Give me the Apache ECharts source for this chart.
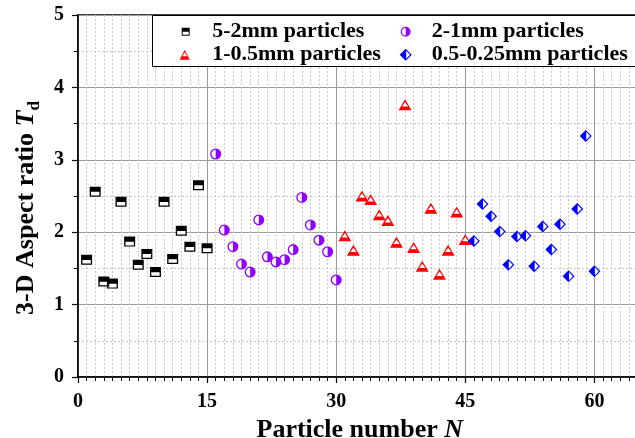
<!DOCTYPE html>
<html>
<head>
<meta charset="utf-8">
<script src="https://cdn.jsdelivr.net/npm/echarts@6/dist/echarts.min.js"></script>
<style>html,body{margin:0;padding:0;background:#fff;}#c{width:635px;height:438px;}</style>
</head>
<body>
<div id="c"></div>
<script>
var n1 = [1,2,3,4,5,6,7,8,9,10,11,12,13,14,15];
var t1 = [1.62,2.56,1.32,1.29,2.42,1.87,1.55,1.70,1.45,2.42,1.63,2.02,1.80,2.65,1.78];
var n2 = [16,17,18,19,20,21,22,23,24,25,26,27,28,29,30];
var t2 = [3.08,2.03,1.80,1.56,1.45,2.17,1.66,1.59,1.62,1.76,2.48,2.10,1.89,1.73,1.34];
var n3 = [31,32,33,34,35,36,37,38,39,40,41,42,43,44,45];
var t3 = [1.95,1.75,2.50,2.45,2.24,2.16,1.86,3.76,1.79,1.53,2.33,1.42,1.75,2.28,1.90];
var n4 = [46,47,48,49,50,51,52,53,54,55,56,57,58,59,60];
var t4 = [1.88,2.39,2.22,2.01,1.55,1.94,1.95,1.53,2.08,1.76,2.11,1.39,2.32,3.33,1.46];
var names = ['5-2mm particles','2-1mm particles','1-0.5mm particles','0.5-0.25mm particles'];
var xTicks = [0,15,30,45,60];
var yTicks = [0,1,2,3,4,5];

function pairs(xs, ys){ return xs.map(function(x,i){ return [x, ys[i]]; }); }

var FONT = "'Liberation Serif','Times New Roman',serif";
var sqPath = 'path://M0,0 L100,0 L100,100 L0,100 Z M12,52 L12,88 L88,88 L88,52 Z';
var sqFull = 'path://M0,0 L100,0 L100,100 L0,100 Z';
var ciPath = 'path://M50,0 A50,50 0 1,1 50,100 A50,50 0 1,1 50,0 Z M50,12 A38,38 0 0,0 50,88 Z';
var ciFull = 'path://M50,0 A50,50 0 1,1 50,100 A50,50 0 1,1 50,0 Z';
var trPath = 'path://M50,0 L100,100 L0,100 Z M50,26 L26,66 L74,66 Z';
var trFull = 'path://M50,0 L100,100 L0,100 Z';
var diPath = 'path://M50,0 L100,50 L50,100 L0,50 Z M54,16 L54,84 L86,50 Z';
var diFull = 'path://M50,0 L100,50 L50,100 L0,50 Z';

var cols = ['#000000','#8F00FF','#FF0000','#0000FF'];
var syms = [sqPath, ciPath, trPath, diPath];
var fulls = [sqFull, ciFull, trFull, diFull];
var sizes = [[11,10],[11,11],[13,11],[12,12]];
var datas = [pairs(n1,t1), pairs(n2,t2), pairs(n3,t3), pairs(n4,t4)];

var series = [];
for (var i = 0; i < 4; i++) {
  series.push({type:'scatter', name:'u'+i, data:datas[i], symbol:fulls[i], symbolSize:sizes[i],
    itemStyle:{color:'#fff', opacity:1}, silent:true, z:2});
  series.push({type:'scatter', name:names[i], data:datas[i], symbol:syms[i], symbolSize:sizes[i],
    itemStyle:{color:cols[i], opacity:1}, z:3});
}

var legendPos = [[181.7,19.7],[400.7,19.7],[179.7,42.7],[399.7,42.7]];
var legendIconSize = [[9,8],[10,10],[11,10],[12,12]];
var legends = names.map(function(nm, i){
  return {
    data:[{name:nm, icon:syms[i]}], left:legendPos[i][0], top:legendPos[i][1], padding:0,
    itemWidth:legendIconSize[i][0], itemHeight:legendIconSize[i][1], z:10, selectedMode:false,
    textStyle:{fontFamily:FONT, fontWeight:'bold', fontSize:22, color:'#000', lineHeight:24,
      padding:[0,0,0, 16 + (10 - legendIconSize[i][0]) + (i===2?2:0) + (i===3?1:0)]}
  };
});

var chart = echarts.init(document.getElementById('c'));
chart.setOption({
  animation:false,
  backgroundColor:'#fff',
  grid:{left:78, top:15, width:645.5, height:362, show:true, borderColor:'#000', borderWidth:1.5,
    containLabel:false, outerBoundsMode:'none'},
  graphic:[{type:'rect', shape:{x:152.5, y:15.5, width:600, height:51}, style:{fill:'#fff', stroke:'#000', lineWidth:1}, z:5}],
  legend:legends,
  xAxis:{type:'value', min:0, max:75, interval:15,
    axisLine:{show:true, onZero:false, lineStyle:{color:'#000', width:1.5}},
    axisTick:{show:true, length:6, lineStyle:{color:'#000', width:1.2}},
    minorTick:{show:true, splitNumber:15, length:4, lineStyle:{color:'#000', width:1}},
    splitLine:{show:true, lineStyle:{color:'#9a9a9a', width:1}},
    minorSplitLine:{show:true, lineStyle:{color:'#c8c8c8', width:1, type:[2,2]}},
    axisLabel:{fontFamily:FONT, fontWeight:'bold', fontSize:20, color:'#000', margin:15,
      formatter:function(v){ return xTicks.indexOf(v) >= 0 ? String(v) : ''; }},
    name:'{a|Particle number }{b|N}', nameLocation:'middle', nameGap:27,
    nameTextStyle:{padding:[0,82,0,0], rich:{
      a:{fontFamily:FONT, fontWeight:'bold', fontSize:26, color:'#000'},
      b:{fontFamily:FONT, fontWeight:'bold', fontStyle:'italic', fontSize:26, color:'#000'}}}
  },
  yAxis:{type:'value', min:0, max:5, interval:1,
    axisLine:{show:true, lineStyle:{color:'#000', width:1.5}},
    axisTick:{show:true, length:6, lineStyle:{color:'#000', width:1.2}},
    minorTick:{show:true, splitNumber:2, length:4, lineStyle:{color:'#000', width:1}},
    splitLine:{show:true, lineStyle:{color:'#9a9a9a', width:1}},
    minorSplitLine:{show:true, lineStyle:{color:'#c8c8c8', width:1, type:[2,2]}},
    axisLabel:{fontFamily:FONT, fontWeight:'bold', fontSize:20, color:'#000', margin:14,
      formatter:function(v){ return yTicks.indexOf(v) >= 0 ? String(v) : ''; }},
    name:'{a|3-D Aspect ratio }{b|T}{c|d}', nameLocation:'middle', nameGap:27,
    nameTextStyle:{padding:[0,24,0,0], rich:{
      a:{fontFamily:FONT, fontWeight:'bold', fontSize:26, color:'#000', lineHeight:34, verticalAlign:'middle'},
      b:{fontFamily:FONT, fontWeight:'bold', fontStyle:'italic', fontSize:26, color:'#000', lineHeight:34, verticalAlign:'middle'},
      c:{fontFamily:FONT, fontWeight:'bold', fontSize:17, color:'#000', lineHeight:34, verticalAlign:'bottom'}}}
  },
  series:series
});
</script>
</body>
</html>
